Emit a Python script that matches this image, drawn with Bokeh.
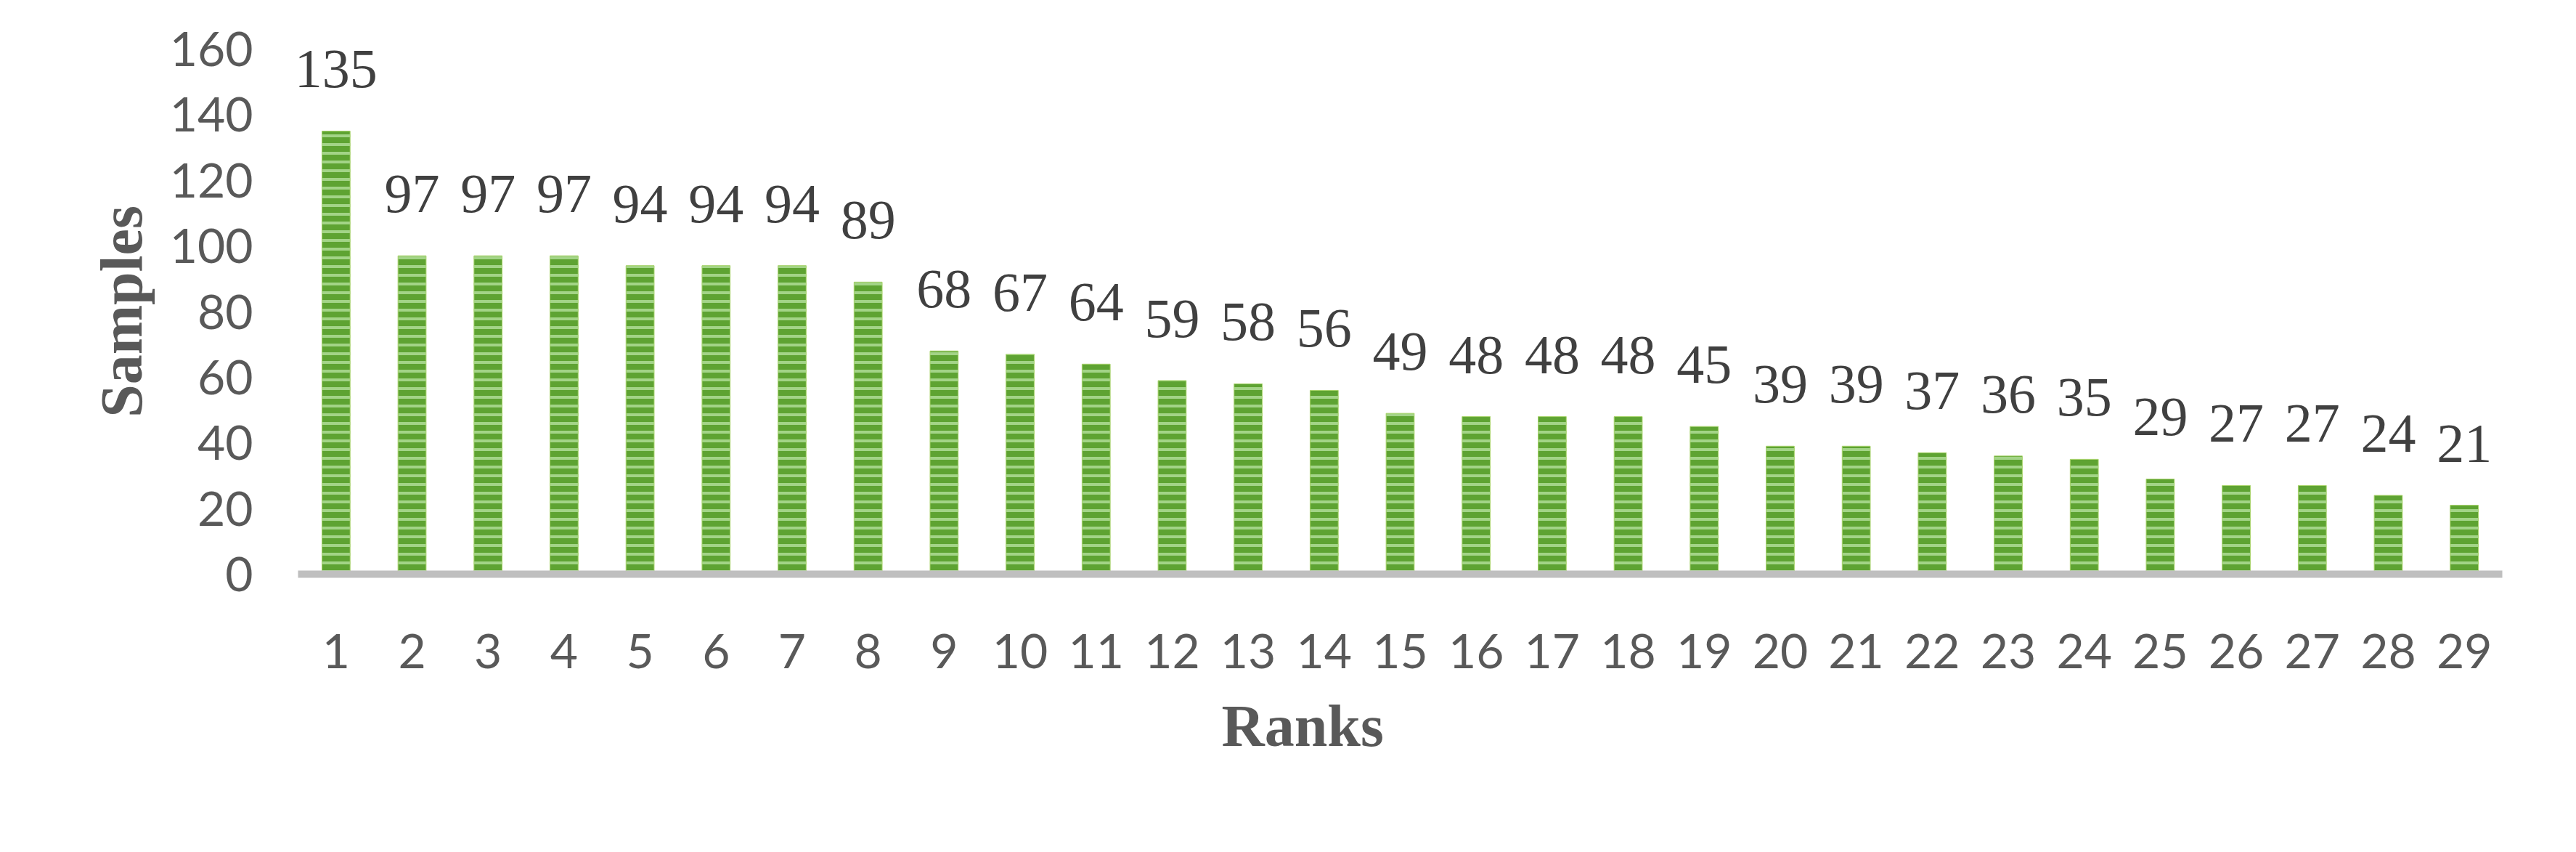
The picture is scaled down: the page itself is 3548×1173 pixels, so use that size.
from bokeh.plotting import figure
from bokeh.models import ColumnDataSource, FactorRange, Range1d, Title, LabelSet, FixedTicker
from bokeh.embed import file_html
from bokeh.resources import INLINE

ranks = ["1", "2", "3", "4", "5", "6", "7", "8", "9", "10", "11", "12", "13", "14", "15",
         "16", "17", "18", "19", "20", "21", "22", "23", "24", "25", "26", "27", "28", "29"]
samples = [135, 97, 97, 97, 94, 94, 94, 89, 68, 67, 64, 59, 58, 56, 49, 48, 48, 48, 45,
           39, 39, 37, 36, 35, 29, 27, 27, 24, 21]
y_ticks = [0, 20, 40, 60, 80, 100, 120, 140, 160]

src = ColumnDataSource(dict(rank=ranks, samples=samples, label=[str(v) for v in samples]))

p = figure(x_range=FactorRange(*ranks), y_range=Range1d(0, 160),
           width=3532, height=1157, output_backend="svg", toolbar_location=None,
           min_border_left=410, min_border_right=86, min_border_top=67, min_border_bottom=367)

p.outline_line_color = None
p.xgrid.grid_line_color = None
p.ygrid.grid_line_color = None
p.background_fill_color = "white"
p.border_fill_color = "white"

p.vbar(x="rank", top="samples", width=0.37, source=src,
       fill_color="#5EA332", line_color="#A9D46C", line_width=1,
       hatch_pattern="horizontal_line", hatch_color="#A3D487",
       hatch_weight=4, hatch_scale=12)

labels = LabelSet(x="rank", y="samples", text="label", source=src,
                  text_align="center", text_baseline="alphabetic", y_offset=60,
                  text_font="Liberation Serif", text_font_size="76px", text_color="#404040")
p.add_layout(labels)

# y axis
p.yaxis.ticker = FixedTicker(ticks=y_ticks)
p.yaxis.axis_line_color = None
p.yaxis.major_tick_line_color = None
p.yaxis.minor_tick_line_color = None
p.yaxis.major_tick_out = 0
p.yaxis.major_tick_in = 0
p.yaxis.major_label_standoff = 62
p.yaxis.major_label_text_font = "Lato"
p.yaxis.major_label_text_font_size = "66px"
p.yaxis.major_label_text_color = "#595959"
p.yaxis.axis_label = "Samples"
p.yaxis.axis_label_text_font = "Liberation Serif"
p.yaxis.axis_label_text_font_style = "bold"
p.yaxis.axis_label_text_font_size = "82px"
p.yaxis.axis_label_text_color = "#595959"
p.yaxis.axis_label_standoff = 18

# x axis
p.xaxis.axis_line_color = "#BFBFBF"
p.xaxis.axis_line_width = 10
p.xaxis.major_tick_line_color = None
p.xaxis.minor_tick_line_color = None
p.xaxis.major_tick_out = 0
p.xaxis.major_tick_in = 0
p.xaxis.major_label_standoff = 82
p.xaxis.major_label_text_font = "Lato"
p.xaxis.major_label_text_font_size = "66px"
p.xaxis.major_label_text_color = "#595959"

ranks_title = Title(text="Ranks", align="left", offset=1272, standoff=58,
                    text_font="Liberation Serif", text_font_style="bold",
                    text_font_size="82px", text_color="#595959")
p.add_layout(ranks_title, "below")

open("out.html", "w").write(file_html(p, INLINE))
